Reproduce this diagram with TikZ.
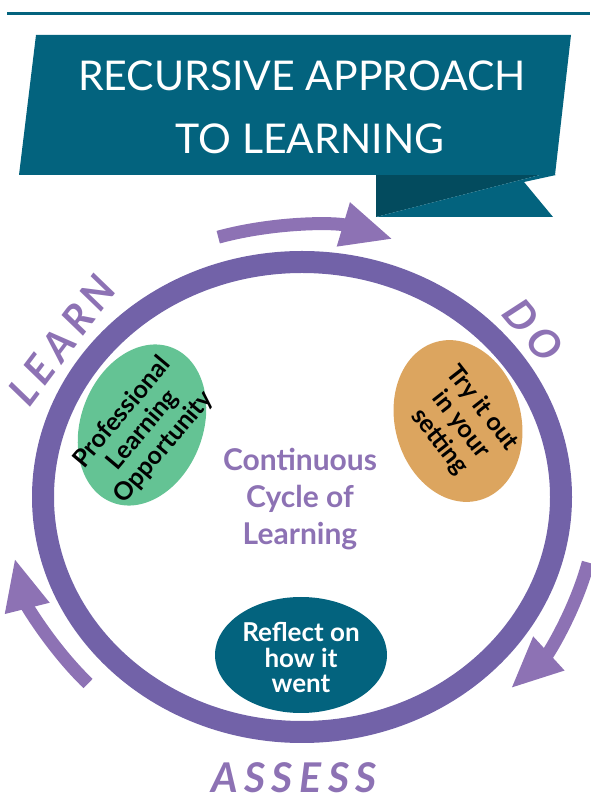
\documentclass[tikz,border=0pt]{standalone}
\usepackage{fontspec}
\setmainfont{Lato}
\usetikzlibrary{arrows.meta,shapes.geometric}
\definecolor{bannerteal}{HTML}{03637E}
\definecolor{folddark}{HTML}{034B5E}
\definecolor{ringpurple}{HTML}{7262A8}
\definecolor{arrowpurple}{HTML}{8D72B4}
\definecolor{oppgreen}{HTML}{64C394}
\definecolor{tryorange}{HTML}{DCA55F}
\begin{document}
\begin{tikzpicture}[x=1pt,y=1pt,
  ringline/.style={draw=ringpurple, line width=22pt},
  cyclearrow/.style={draw=arrowpurple, line width=13pt, -{Triangle[length=52pt,width=42pt]}},
  blob/.style={ellipse, inner sep=0pt},
  blobtext/.style={align=center, font=\bfseries\fontsize{25}{27}\selectfont},
  ringlabel/.style={text=arrowpurple, font=\bfseries\itshape\fontsize{41}{41}\selectfont\addfontfeature{LetterSpace=16}},
  titletext/.style={anchor=base, text=white, font=\fontsize{41}{41}\selectfont}]
\useasboundingbox (0,0) rectangle (590,801);
% top rule
\draw[bannerteal, line width=3pt] (7,787) -- (590,787);
% ribbon fold
\fill[folddark] (376,626) -- (540,626) -- (376,584) -- cycle;
\fill[bannerteal] (376,584) -- (553,584) -- (524,619) -- (556,626) -- (540,626) -- cycle;
% banner
\fill[bannerteal] (36,766) -- (571,766) -- (555,626) -- (19,626) -- cycle;
\node[titletext] (title1) at (302,710) {RECURSIVE APPROACH};
\node[titletext] (title2) at (310,647) {TO LEARNING};
% ring
\path[ringline] (302,304) ellipse [x radius=259, y radius=235];
% arrows
\draw[cyclearrow] ([shift={(302,304)}]106.5:295 and 271) arc[start angle=106.5, end angle=72, x radius=295, y radius=271];
\draw[cyclearrow] ([shift={(302,304)}]-14:295 and 271) arc[start angle=-14, end angle=-45, x radius=295, y radius=271];
\draw[cyclearrow] ([shift={(302,304)}]223.5:295 and 271) arc[start angle=223.5, end angle=193, x radius=295, y radius=271];
% ellipses
\node[blob, fill=oppgreen, minimum width=166pt, minimum height=122pt, rotate=69] (opp) at (142,376) {};
\node[blob, fill=tryorange, minimum width=164pt, minimum height=126pt, rotate=-75] (try) at (458,380) {};
\node[blob, fill=bannerteal, minimum width=172pt, minimum height=116pt] (reflect) at (301,146) {};
\node[blobtext, rotate=50] (opptext) at (143,371) {Professional\\Learning\\Opportunity};
\node[blobtext, rotate=-52] (trytext) at (461,376) {Try it out\\in your\\setting};
\node[blobtext, text=white, font=\bfseries\fontsize{26}{25.5}\selectfont] (reflecttext) at (301,143) {Reflect on\\how it\\went};
% centre
\node[align=center, text=arrowpurple, font=\bfseries\fontsize{30}{37}\selectfont] (cycle) at (300,302) {Continuous\\Cycle of\\Learning};
% ring labels
\node[ringlabel, rotate=53] (learn) at (62,461) {LEARN};
\node[ringlabel, rotate=-50] (do) at (533,471) {DO};
\node[ringlabel] (assess) at (294,23) {ASSESS};
\end{tikzpicture}
\end{document}
